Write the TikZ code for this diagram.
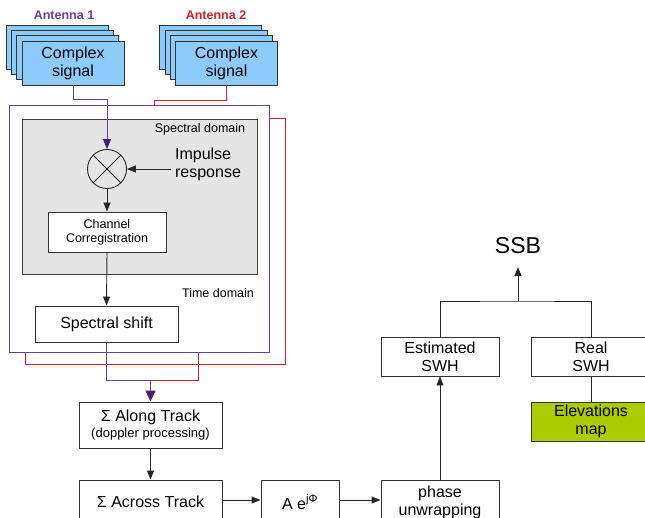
\documentclass[tikz,border=0pt]{standalone}
\usepackage{fontspec}
\setmainfont{Liberation Sans}
\usetikzlibrary{arrows.meta, positioning, calc}

\definecolor{antpurple}{HTML}{6B3FA0}
\definecolor{antred}{HTML}{D0202E}
\definecolor{tippurple}{HTML}{4B1F70}
\definecolor{sigblue}{HTML}{8CCBFA}
\definecolor{elevgreen}{HTML}{AACC00}

\begin{document}
\begin{tikzpicture}[
    x=1pt, y=-1pt,
    font=\fontsize{16}{18}\selectfont,
    line width=0.9pt,
    box/.style={draw=black!80, minimum width=118pt, minimum height=39pt,
                align=center, inner sep=1pt, fill=white},
    sigbox/.style={box, fill=sigblue, minimum width=102pt, minimum height=44pt},
    smalltxt/.style={font=\fontsize{12.5}{14}\selectfont},
    arr/.style={-{Triangle[length=9pt, width=7pt]}, draw=black!85},
    purpline/.style={draw=antpurple, line width=1pt},
    redline/.style={draw=antred, line width=1pt},
    purparr/.style={purpline, -{Triangle[length=11pt, width=10pt, color=tippurple]}}
]
\useasboundingbox (0,0) rectangle (645,518);

%% ---- ANTENNAS ----------------------------------------------------
\node[font=\fontsize{12.5}{14}\selectfont\bfseries, text=antpurple] (lbl1) at (64,15) {Antenna 1};
\node[font=\fontsize{12.5}{14}\selectfont\bfseries, text=antred]    (lbl2) at (216,15) {Antenna 2};

\foreach \k in {3,2,1} {
  \node[sigbox] (a1s\k) at ({73-5.2*\k},{63-5.3*\k}) {};
  \node[sigbox] (a2s\k) at ({226.5-5.2*\k},{63-5.3*\k}) {};
}
\node[sigbox] (a1) at (73,63)    {Complex\\signal};
\node[sigbox] (a2) at (226.5,63) {Complex\\signal};

%% ---- DOMAIN FRAMES -----------------------------------------------
\node[draw=antred, line width=1pt, minimum width=260pt, minimum height=246pt, inner sep=0pt]
      (redframe) at (155,242) {};
\draw[redline] (a2.south) |- (154,101) -- (154,119);

\node[draw=antpurple, line width=1pt, fill=white, minimum width=260pt, minimum height=247pt, inner sep=0pt]
      (purpframe) at (139,229.5) {};
\node[draw=black!75, fill=black!10, minimum width=235pt, minimum height=155pt, inner sep=0pt]
      (specframe) at (139.5,196.5) {};

\node[smalltxt] (speclbl) at (200,129) {Spectral domain};
\node[smalltxt] (timelbl) at (218,293) {Time domain};

%% ---- SPECTRAL / TIME PROCESSING ----------------------------------
\node[draw=black!85, circle, minimum size=39pt, inner sep=0pt] (mult) at (107,169) {};
\draw[black!85] (mult.north west) -- (mult.south east);
\draw[black!85] (mult.north east) -- (mult.south west);

\node[align=left] (imp) at (208,164) {Impulse\\response};
\node[box, smalltxt, minimum width=118pt, minimum height=40pt] (coreg) at (107,232) {Channel\\Corregistration};
\node[box, minimum width=143pt, minimum height=36pt] (shift) at (106.5,324) {Spectral shift};

\draw[purpline] (a1.south) |- (107,100) -- (107,106);
\draw[purpline, -{Triangle[length=10pt, width=8pt, color=tippurple]}] (107,106) -- (mult.north);
\draw[arr] (imp.west |- mult.east) -- (mult.east);
\draw[arr] (mult.south) -- (coreg.north);
\draw[arr] (coreg.south) -- (shift.north);

%% ---- TRACK SUMS ----------------------------------------------------
\node[box, minimum width=143pt, minimum height=46pt] (along) at (150.5,425)
      {Σ Along Track\\[-2pt]{\fontsize{13}{15}\selectfont (doppler processing)}};
\node[box, minimum width=143pt, minimum height=44pt] (across) at (150.5,502) {Σ Across Track};
\node[box, minimum width=78pt, minimum height=44pt]  (phasor) at (300,502) {A e\textsuperscript{jΦ}};
\node[box, minimum width=118pt, minimum height=44pt] (unwrap) at (440,502) {phase\\unwrapping};

\coordinate (join) at (along.north |- 0,380);
\draw[purpline] (shift.south) |- (join);
\draw[redline] (198,353) |- (join);
\draw[purparr] (join) -- (along.north);

\draw[arr] (along.south) -- (across.north);
\draw[arr] (across.east |- 0,500) -- (phasor.west |- 0,500);
\draw[arr] (phasor.east |- 0,500) -- (unwrap.west |- 0,500);

%% ---- SSB ---------------------------------------------------------
\node[box] (est)  at (440,356.5) {Estimated\\SWH};
\node[box, minimum width=120pt] (real) at (591,356.5) {Real\\SWH};
\node[box, minimum width=120pt, fill=elevgreen] (elev) at (591,421.5) {Elevations\\map};
\node[font=\fontsize{23}{26}\selectfont, inner sep=0pt] (ssb) at (518,245.5) {SSB};

\coordinate (ssbjoin) at (ssb.south |- 0,301);
\draw[arr] (unwrap.north) -- (est.south);
\draw[black!85] (est.north) |- (ssbjoin) -| (real.north);
\draw[arr, shorten >=13pt] (ssbjoin) -- (ssb.south);
\draw[black!85] (real.south) -- (elev.north);

\end{tikzpicture}
\end{document}
